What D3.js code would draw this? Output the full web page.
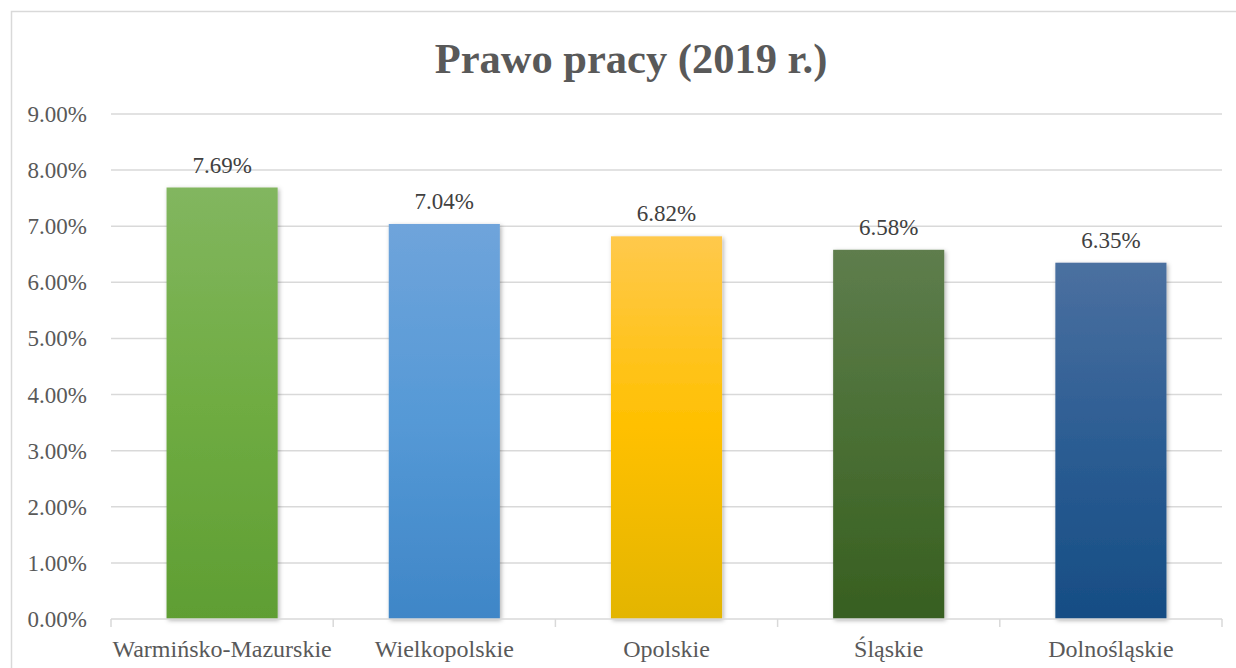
<!DOCTYPE html>
<html>
<head>
<meta charset="utf-8">
<script src="https://cdn.jsdelivr.net/npm/d3@7"></script>
<style>
  body { margin: 0; background: #fff; }
  svg text { font-family: "Liberation Serif", "Times New Roman", serif !important; }
</style>
</head>
<body>
<div id="chart"></div>
<script>
// data
var regions = ["Warmińsko-Mazurskie", "Wielkopolskie", "Opolskie", "Śląskie", "Dolnośląskie"];
var values = [7.69, 7.04, 6.82, 6.58, 6.35];
var yTicks = [0, 1, 2, 3, 4, 5, 6, 7, 8, 9];
// gradient stops per bar: top, middle, bottom
var barTop = ["#82b65f", "#6fa4db", "#ffc94c", "#5e7d4d", "#4b70a0"];
var barMid = ["#6fac42", "#5599d6", "#ffc000", "#4a6f34", "#2c5d93"];
var barBottom = ["#5f9e33", "#3f86c7", "#e3b500", "#375f20", "#164d84"];

const svgWidth = 1236;
const svgHeight = 668;
const margin = {left: 111, right: 14, top: 114, bottom: 49};
const width = svgWidth - margin.left - margin.right,
  height = svgHeight - margin.top - margin.bottom;

const svg = d3.select("#chart")
  .append("svg")
  .attr("width", svgWidth)
  .attr("height", svgHeight);

// chart frame
svg.append("path")
  .attr("d", "M11.5," + svgHeight + " L11.5,11.5 L" + svgWidth + ",11.5")
  .style("fill", "none")
  .style("stroke", "#d9d9d9")
  .style("stroke-width", 1.5);

const defs = svg.append("defs");

const shadow = defs.append("filter")
  .attr("id", "shadow")
  .attr("x", "-10%").attr("y", "-10%")
  .attr("width", "130%").attr("height", "130%");
shadow.append("feDropShadow")
  .attr("dx", 1.5).attr("dy", 1.5)
  .attr("stdDeviation", 2)
  .attr("flood-color", "#000")
  .attr("flood-opacity", 0.3);

regions.forEach(function(r, i) {
  var g = defs.append("linearGradient")
    .attr("id", "grad" + i)
    .attr("x1", 0).attr("y1", 0)
    .attr("x2", 0).attr("y2", 1);
  g.append("stop").attr("offset", "0%").attr("stop-color", barTop[i]);
  g.append("stop").attr("offset", "50%").attr("stop-color", barMid[i]);
  g.append("stop").attr("offset", "100%").attr("stop-color", barBottom[i]);
});

svg.append("text")
  .attr("x", 631)
  .attr("y", 73)
  .attr("text-anchor", "middle")
  .style("font-size", "42.5px")
  .style("font-weight", "bold")
  .style("fill", "#595959")
  .text("Prawo pracy (2019 r.)");

const plot = svg.append("g")
  .attr("transform", "translate(" + margin.left + "," + margin.top + ")");

var x = d3.scaleBand()
  .domain(regions)
  .range([0, width])
  .paddingInner(0.5)
  .paddingOuter(0.25);

var y = d3.scaleLinear()
  .domain([0, 9])
  .range([height, 0]);

// gridlines
plot.selectAll(".grid")
  .data(yTicks.filter(d => d > 0))
  .enter()
  .append("line")
    .attr("class", "grid")
    .attr("x1", 0)
    .attr("x2", width)
    .attr("y1", d => y(d))
    .attr("y2", d => y(d))
    .style("stroke", "#d9d9d9")
    .style("stroke-width", 1.5);

// y tick labels
plot.selectAll(".ylab")
  .data(yTicks)
  .enter()
  .append("text")
    .attr("class", "ylab")
    .attr("x", -24)
    .attr("y", d => y(d) + 8)
    .attr("text-anchor", "end")
    .style("font-size", "23px")
    .style("fill", "#595959")
    .text(d => d3.format(".2f")(d) + "%");

// bars
plot.selectAll(".bar")
  .data(values)
  .enter()
  .append("rect")
    .attr("class", "bar")
    .attr("x", (d, i) => x(regions[i]))
    .attr("y", d => y(d))
    .attr("width", x.bandwidth())
    .attr("height", d => height - y(d))
    .style("fill", (d, i) => "url(#grad" + i + ")")
    .attr("filter", "url(#shadow)");

// value labels
plot.selectAll(".vlab")
  .data(values)
  .enter()
  .append("text")
    .attr("class", "vlab")
    .attr("x", (d, i) => x(regions[i]) + x.bandwidth() / 2)
    .attr("y", d => y(d) - 15)
    .attr("text-anchor", "middle")
    .style("font-size", "23px")
    .style("fill", "#404040")
    .text(d => d3.format(".2f")(d) + "%");

// x axis
const xAxis = plot.append("g")
  .attr("transform", "translate(0," + height + ")")
  .call(d3.axisBottom(x).tickSize(0).tickPadding(21));
xAxis.select(".domain").remove();
xAxis.attr("font-family", null);
xAxis.selectAll("text")
  .style("font-size", "24px")
  .style("fill", "#595959");

var step = width / regions.length;
var bounds = d3.range(regions.length + 1).map(i => i * step);
xAxis.append("line")
  .attr("x1", 0).attr("x2", width)
  .attr("y1", 0).attr("y2", 0)
  .style("stroke", "#d9d9d9")
  .style("stroke-width", 1.5);
xAxis.selectAll(".bound")
  .data(bounds)
  .enter()
  .append("line")
    .attr("class", "bound")
    .attr("x1", d => d).attr("x2", d => d)
    .attr("y1", 0).attr("y2", 8)
    .style("stroke", "#d9d9d9")
    .style("stroke-width", 1.5);
</script>
</body>
</html>
